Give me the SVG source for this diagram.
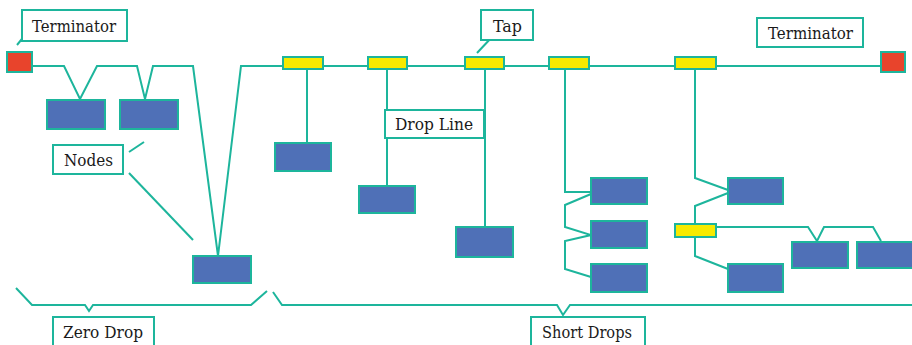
<svg xmlns="http://www.w3.org/2000/svg" width="912" height="345" viewBox="0 0 912 345">
  <style>
    .wire { fill: none; stroke: #1db59c; stroke-width: 2; stroke-linejoin: miter; }
    .node { fill: #4f70b7; stroke: #1db59c; stroke-width: 2; }
    .tap { fill: #f7ea00; stroke: #1db59c; stroke-width: 2; }
    .term { fill: #e8442c; stroke: #1db59c; stroke-width: 2; }
    .label rect { fill: #ffffff; stroke: #1db59c; stroke-width: 2; }
    .label text { font-family: "DejaVu Serif", "Liberation Serif", serif; font-size: 16px; fill: #1a1a1a; }
  </style>

  <rect width="912" height="345" fill="#ffffff"/>

  <!-- connectors: trunk, drops, braces and callout leaders -->
  <g id="connectors" class="wire">
    <!-- trunk with zero-drop branches on the left -->
    <polyline points="32,66 64,66 80,99 97,66 137,66 145,99 153,66 193,66 218,256 241,66 283,66"/>
    <line x1="283" y1="66" x2="881" y2="66"/>
    <!-- simple drops -->
    <line x1="307" y1="69" x2="307" y2="143"/>
    <line x1="387" y1="69" x2="387" y2="186"/>
    <line x1="485" y1="69" x2="485" y2="227"/>
    <!-- daisy chain from fourth tap -->
    <polyline points="565,69 565,192 591,192"/>
    <polyline points="591,194 565,205 565,227 591,235 565,241 565,269 591,277"/>
    <!-- branch from fifth tap -->
    <polyline points="695,69 695,178 728,190"/>
    <polyline points="728,193 695,206 695,224"/>
    <polyline points="695,237 695,256 728,269"/>
    <polyline points="716,227 808,227 817,241 824,227 873,227 881,241"/>
    <!-- braces -->
    <polyline points="16,288 32,305 85,305 89,311 93,305 251,305 267,291"/>
    <polyline points="273,292 282,305 557,305 563,315 570,305 912,305"/>
    <!-- callout leaders -->
    <line x1="30" y1="29" x2="17" y2="45"/>
    <line x1="492" y1="37" x2="477" y2="53"/>
    <line x1="129" y1="152" x2="144" y2="142"/>
    <line x1="129" y1="173" x2="193" y2="240"/>
  </g>

  <!-- terminators -->
  <g id="terminator-left"><rect class="term" x="7" y="52" width="25" height="20"/></g>
  <g id="terminator-right"><rect class="term" x="881" y="52" width="24" height="20"/></g>

  <!-- taps -->
  <g id="tap-1"><rect class="tap" x="283" y="57" width="40" height="12"/></g>
  <g id="tap-2"><rect class="tap" x="368" y="57" width="39" height="12"/></g>
  <g id="tap-3"><rect class="tap" x="465" y="57" width="39" height="12"/></g>
  <g id="tap-4"><rect class="tap" x="549" y="57" width="40" height="12"/></g>
  <g id="tap-5"><rect class="tap" x="675" y="57" width="41" height="12"/></g>
  <g id="tap-6"><rect class="tap" x="675" y="224" width="41" height="13"/></g>

  <!-- nodes -->
  <g id="node-1"><rect class="node" x="47" y="100" width="58" height="29"/></g>
  <g id="node-2"><rect class="node" x="120" y="100" width="58" height="29"/></g>
  <g id="node-3"><rect class="node" x="193" y="256" width="58" height="27"/></g>
  <g id="node-4"><rect class="node" x="275" y="143" width="56" height="28"/></g>
  <g id="node-5"><rect class="node" x="359" y="186" width="56" height="27"/></g>
  <g id="node-6"><rect class="node" x="456" y="227" width="57" height="30"/></g>
  <g id="node-7"><rect class="node" x="591" y="178" width="56" height="26"/></g>
  <g id="node-8"><rect class="node" x="591" y="221" width="56" height="27"/></g>
  <g id="node-9"><rect class="node" x="591" y="264" width="56" height="28"/></g>
  <g id="node-10"><rect class="node" x="728" y="178" width="55" height="26"/></g>
  <g id="node-11"><rect class="node" x="728" y="264" width="55" height="28"/></g>
  <g id="node-12"><rect class="node" x="792" y="242" width="56" height="26"/></g>
  <g id="node-13"><rect class="node" x="857" y="242" width="56" height="26"/></g>

  <!-- callout labels -->
  <g id="label-terminator-left" class="label">
    <rect x="22" y="10" width="105" height="31"/>
    <text x="32" y="32" textLength="84" lengthAdjust="spacingAndGlyphs">Terminator</text>
  </g>
  <g id="label-terminator-right" class="label">
    <rect x="757" y="18" width="106" height="29"/>
    <text x="768" y="39" textLength="85" lengthAdjust="spacingAndGlyphs">Terminator</text>
  </g>
  <g id="label-tap" class="label">
    <rect x="481" y="10" width="52" height="30"/>
    <text x="493" y="32" textLength="29" lengthAdjust="spacingAndGlyphs">Tap</text>
  </g>
  <g id="label-nodes" class="label">
    <rect x="53" y="145" width="70" height="29"/>
    <text x="64" y="166" textLength="49" lengthAdjust="spacingAndGlyphs">Nodes</text>
  </g>
  <g id="label-drop-line" class="label">
    <rect x="385" y="110" width="99" height="28"/>
    <text x="395" y="130" textLength="78" lengthAdjust="spacingAndGlyphs">Drop Line</text>
  </g>
  <g id="label-zero-drop" class="label">
    <rect x="53" y="317" width="101" height="32"/>
    <text x="63" y="338" textLength="80" lengthAdjust="spacingAndGlyphs">Zero Drop</text>
  </g>
  <g id="label-short-drops" class="label">
    <rect x="531" y="317" width="114" height="32"/>
    <text x="542" y="338" textLength="90" lengthAdjust="spacingAndGlyphs">Short Drops</text>
  </g>
</svg>
